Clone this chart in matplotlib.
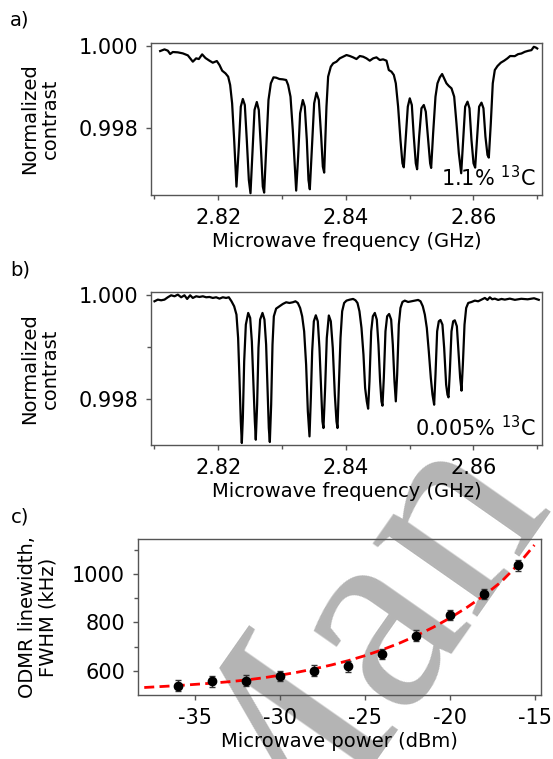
import numpy as np
import matplotlib
matplotlib.use("Agg")
import matplotlib.pyplot as plt
from matplotlib.ticker import FixedLocator, FormatStrFormatter

plt.rcParams['font.family'] = ['DejaVu Sans']
plt.rcParams['mathtext.fontset'] = 'dejavusans'
plt.rcParams['axes.unicode_minus'] = False

# ---- panel a: 1.1% 13C spectrum (traced)
freq_a = [2.81089, 2.81157, 2.81209, 2.81246, 2.81287, 2.81366, 2.81444, 2.81523, 2.81601, 2.81653,
          2.81695, 2.81747, 2.81799, 2.81862, 2.81914, 2.81977, 2.82019, 2.82061, 2.82113, 2.82155,
          2.82186, 2.82217, 2.82249, 2.82285, 2.82322, 2.82353, 2.82385, 2.82416, 2.82447, 2.82479,
          2.82505, 2.82536, 2.82568, 2.82604, 2.82635, 2.82667, 2.82698, 2.82719, 2.82750, 2.82787,
          2.82824, 2.82865, 2.82907, 2.82959, 2.83012, 2.83064, 2.83095, 2.83132, 2.83168, 2.83200,
          2.83221, 2.83252, 2.83283, 2.83325, 2.83356, 2.83388, 2.83414, 2.83435, 2.83466, 2.83503,
          2.83539, 2.83576, 2.83613, 2.83639, 2.83660, 2.83696, 2.83722, 2.83764, 2.83801, 2.83853,
          2.83905, 2.83957, 2.84010, 2.84062, 2.84114, 2.84166, 2.84219, 2.84271, 2.84323, 2.84375,
          2.84428, 2.84480, 2.84532, 2.84584, 2.84637, 2.84673, 2.84715, 2.84752, 2.84783, 2.84819,
          2.84856, 2.84887, 2.84908, 2.84940, 2.84971, 2.85002, 2.85034, 2.85065, 2.85096, 2.85117,
          2.85149, 2.85185, 2.85222, 2.85253, 2.85290, 2.85321, 2.85337, 2.85368, 2.85405, 2.85436,
          2.85473, 2.85509, 2.85541, 2.85577, 2.85614, 2.85656, 2.85698, 2.85734, 2.85771, 2.85808,
          2.85839, 2.85870, 2.85907, 2.85938, 2.85969, 2.86001, 2.86027, 2.86058, 2.86089, 2.86126,
          2.86157, 2.86188, 2.86220, 2.86241, 2.86272, 2.86303, 2.86335, 2.86377, 2.86429, 2.86481,
          2.86533, 2.86575, 2.86648, 2.86700, 2.86752, 2.86805, 2.86857, 2.86909, 2.86946, 2.86977,
          2.87000]
contrast_a = [0.999885, 0.999926, 0.999894, 0.999812, 0.999861, 0.999853, 0.999828, 0.999779, 0.999624, 0.999706,
              0.999689, 0.999804, 0.999714, 0.999648, 0.999599, 0.999640, 0.999542, 0.999403, 0.999337, 0.999256,
              0.999051, 0.998601, 0.997701, 0.996556, 0.997538, 0.998519, 0.998708, 0.998560, 0.997701, 0.996720,
              0.996393, 0.997374, 0.998438, 0.998634, 0.998438, 0.997538, 0.996556, 0.996409, 0.997456, 0.998683,
              0.999092, 0.999239, 0.999231, 0.999198, 0.999190, 0.999174, 0.999051, 0.998765, 0.997947, 0.997047,
              0.996458, 0.997292, 0.998356, 0.998683, 0.998519, 0.997701, 0.996720, 0.996491, 0.997456, 0.998601,
              0.998863, 0.998683, 0.997783, 0.997047, 0.996900, 0.998519, 0.999256, 0.999501, 0.999583, 0.999624,
              0.999706, 0.999746, 0.999787, 0.999763, 0.999730, 0.999689, 0.999763, 0.999746, 0.999706, 0.999648,
              0.999706, 0.999730, 0.999665, 0.999681, 0.999648, 0.999419, 0.999378, 0.999297, 0.999092, 0.998519,
              0.997701, 0.997129, 0.997030, 0.997783, 0.998519, 0.998724, 0.998560, 0.997783, 0.997129, 0.996982,
              0.997783, 0.998479, 0.998560, 0.998396, 0.997701, 0.997129, 0.997015, 0.997865, 0.998765, 0.999092,
              0.999239, 0.999321, 0.999215, 0.999092, 0.999027, 0.998969, 0.998765, 0.998110, 0.997374, 0.996884,
              0.997701, 0.998519, 0.998642, 0.998479, 0.997701, 0.997129, 0.997022, 0.997783, 0.998519, 0.998618,
              0.998479, 0.997783, 0.997333, 0.997268, 0.998110, 0.999092, 0.999419, 0.999517, 0.999599, 0.999648,
              0.999706, 0.999763, 0.999760, 0.999809, 0.999825, 0.999866, 0.999890, 0.999907, 0.999989, 0.999972,
              0.999948]

# ---- panel b: 0.005% 13C spectrum (traced)
freq_b = [2.81000, 2.81052, 2.81104, 2.81157, 2.81209, 2.81261, 2.81314, 2.81366, 2.81418, 2.81470,
          2.81512, 2.81559, 2.81601, 2.81653, 2.81705, 2.81758, 2.81810, 2.81862, 2.81914, 2.81967,
          2.82019, 2.82071, 2.82123, 2.82165, 2.82207, 2.82249, 2.82285, 2.82311, 2.82332, 2.82353,
          2.82369, 2.82385, 2.82406, 2.82432, 2.82469, 2.82500, 2.82526, 2.82552, 2.82573, 2.82588,
          2.82609, 2.82630, 2.82656, 2.82693, 2.82724, 2.82750, 2.82771, 2.82792, 2.82808, 2.82829,
          2.82850, 2.82871, 2.82907, 2.82959, 2.83012, 2.83064, 2.83116, 2.83168, 2.83210, 2.83247,
          2.83283, 2.83315, 2.83346, 2.83377, 2.83404, 2.83430, 2.83451, 2.83472, 2.83498, 2.83529,
          2.83560, 2.83586, 2.83613, 2.83633, 2.83649, 2.83675, 2.83701, 2.83733, 2.83764, 2.83795,
          2.83827, 2.83853, 2.83869, 2.83889, 2.83916, 2.83942, 2.83973, 2.84010, 2.84062, 2.84114,
          2.84151, 2.84182, 2.84213, 2.84245, 2.84276, 2.84302, 2.84328, 2.84349, 2.84370, 2.84397,
          2.84423, 2.84454, 2.84485, 2.84511, 2.84537, 2.84558, 2.84574, 2.84595, 2.84621, 2.84647,
          2.84678, 2.84710, 2.84736, 2.84762, 2.84783, 2.84804, 2.84830, 2.84856, 2.84887, 2.84924,
          2.84976, 2.85029, 2.85081, 2.85133, 2.85170, 2.85206, 2.85238, 2.85269, 2.85300, 2.85332,
          2.85358, 2.85384, 2.85405, 2.85431, 2.85457, 2.85483, 2.85514, 2.85541, 2.85572, 2.85593,
          2.85609, 2.85630, 2.85656, 2.85682, 2.85708, 2.85740, 2.85766, 2.85792, 2.85813, 2.85834,
          2.85860, 2.85886, 2.85918, 2.85970, 2.86022, 2.86074, 2.86127, 2.86179, 2.86220, 2.86257,
          2.86294, 2.86335, 2.86388, 2.86440, 2.86492, 2.86570, 2.86650, 2.86750, 2.86850, 2.86950,
          2.87024]
contrast_b = [0.999872, 0.999904, 0.999891, 0.999904, 0.999949, 0.999987, 0.999968, 1.000000, 0.999949, 0.999987,
              0.999917, 0.999987, 0.999936, 0.999968, 0.999955, 0.999968, 0.999949, 0.999955, 0.999936, 0.999949,
              0.999923, 0.999949, 0.999936, 0.999949, 0.999872, 0.999776, 0.999617, 0.999169, 0.998403, 0.997572,
              0.997157, 0.997636, 0.998722, 0.999425, 0.999649, 0.999553, 0.999105, 0.998275, 0.997572, 0.997220,
              0.997891, 0.998978, 0.999521, 0.999649, 0.999521, 0.999042, 0.998211, 0.997444, 0.997176, 0.997891,
              0.999042, 0.999585, 0.999732, 0.999776, 0.999821, 0.999853, 0.999840, 0.999853, 0.999872, 0.999840,
              0.999744, 0.999585, 0.999297, 0.998658, 0.997763, 0.997284, 0.998019, 0.998914, 0.999489, 0.999604,
              0.999489, 0.998978, 0.998147, 0.997572, 0.997444, 0.998211, 0.999169, 0.999600, 0.999489, 0.998978,
              0.998083, 0.997572, 0.997444, 0.998211, 0.999169, 0.999681, 0.999840, 0.999885, 0.999904, 0.999917,
              0.999891, 0.999840, 0.999681, 0.999361, 0.998850, 0.998211, 0.997955, 0.997815, 0.998339, 0.999297,
              0.999585, 0.999649, 0.999521, 0.999042, 0.998339, 0.997955, 0.997872, 0.998403, 0.999297, 0.999585,
              0.999629, 0.999521, 0.999042, 0.998339, 0.997955, 0.998466, 0.999425, 0.999744, 0.999859, 0.999885,
              0.999859, 0.999872, 0.999885, 0.999898, 0.999872, 0.999776, 0.999617, 0.999361, 0.998914, 0.998403,
              0.998083, 0.997891, 0.998466, 0.999297, 0.999489, 0.999514, 0.999425, 0.998978, 0.998275, 0.998083,
              0.998032, 0.998530, 0.999297, 0.999489, 0.999508, 0.999393, 0.998914, 0.998403, 0.998160, 0.998658,
              0.999425, 0.999744, 0.999840, 0.999859, 0.999885, 0.999872, 0.999904, 0.999936, 0.999898, 0.999949,
              0.999911, 0.999923, 0.999898, 0.999917, 0.999904, 0.999923, 0.999900, 0.999920, 0.999910, 0.999930,
              0.999900]

# ---- panel c: linewidth vs microwave power
power_dbm = [-36, -34, -32, -30, -28, -26, -24, -22, -20, -18, -16]
fwhm_khz = [539, 556, 559, 578, 601, 618, 670, 745, 831, 918, 1036]
fwhm_err = [22, 22, 22, 22, 22, 22, 22, 22, 22, 22, 22]
fit_dbm = [-38, -37, -36, -35, -34, -33, -32, -31, -30, -29, -28, -27,
           -26, -25, -24, -23, -22, -21, -20, -19, -18, -17, -16, -15.05]
fit_khz = [531, 535, 539, 544, 549, 555, 562, 571, 582, 594, 608, 624,
           642, 663, 687, 714, 745, 780, 819, 863, 912, 968, 1040, 1120]

W, H = 553, 759
fig = plt.figure(figsize=(W / 100, H / 100), dpi=100)

# faint watermark behind everything
fig.text(0.632, 0.115, "Man", fontsize=200, family="Liberation Serif",
         color="#b4b4b4", rotation=55, ha="center", va="center", zorder=-5)

def frame(ax):
    ax.patch.set_alpha(0)
    for s in ax.spines.values():
        s.set_color("#555555"); s.set_linewidth(1.0)
    ax.tick_params(which="both", direction="out", color="#555555", labelsize=15, pad=6)
    ax.tick_params(which="major", length=3.5, width=1)
    ax.tick_params(which="minor", length=3, width=1)

def spectrum_axes(ax, ylim):
    frame(ax)
    ax.set_xlim(2.8095, 2.8707); ax.set_ylim(*ylim)
    ax.xaxis.set_major_locator(FixedLocator([2.82, 2.84, 2.86]))
    ax.xaxis.set_minor_locator(FixedLocator([2.81, 2.83, 2.85, 2.87]))
    ax.xaxis.set_major_formatter(FormatStrFormatter("%.2f"))
    ax.yaxis.set_major_locator(FixedLocator([0.998, 1.000]))
    ax.yaxis.set_major_formatter(FormatStrFormatter("%.3f"))
    ax.set_xlabel("Microwave frequency (GHz)", fontsize=14, labelpad=3)
    ax.text(-0.285, 0.5, "Normalized\ncontrast", transform=ax.transAxes, rotation=90,
            ha="center", va="center", fontsize=14, linespacing=1.15)

ax_a = fig.add_axes([151.3 / W, 1 - 195 / H, 390.4 / W, 152.3 / H])
spectrum_axes(ax_a, (0.99635, 1.00009))
ax_a.plot(freq_a, contrast_a, color="black", lw=1.6)
ax_a.text(0.985, 0.03, r"1.1% $^{13}$C", transform=ax_a.transAxes, ha="right", va="bottom", fontsize=15)

ax_b = fig.add_axes([151.3 / W, 1 - 444.7 / H, 390.4 / W, 152.7 / H])
spectrum_axes(ax_b, (0.997125, 1.00005))
ax_b.yaxis.set_minor_locator(FixedLocator([0.999]))
ax_b.plot(freq_b, contrast_b, color="black", lw=1.6)
ax_b.text(0.985, 0.03, r"0.005% $^{13}$C", transform=ax_b.transAxes, ha="right", va="bottom", fontsize=15)

ax_c = fig.add_axes([138.3 / W, 1 - 695 / H, 402.7 / W, 156 / H])
frame(ax_c)
ax_c.set_xlim(-38.35, -14.66); ax_c.set_ylim(500, 1145)
ax_c.xaxis.set_major_locator(FixedLocator([-35, -30, -25, -20, -15]))
ax_c.yaxis.set_major_locator(FixedLocator([600, 800, 1000]))
ax_c.yaxis.set_minor_locator(FixedLocator([700, 900, 1100]))
ax_c.plot(fit_dbm, fit_khz, color="#ff0000", lw=2, dashes=(3.6, 1.9))
ax_c.errorbar(power_dbm, fwhm_khz, yerr=fwhm_err, fmt="o", color="black", ms=6,
              ecolor="#333333", elinewidth=1, capsize=2.5, capthick=1, zorder=3)
ax_c.set_xlabel("Microwave power (dBm)", fontsize=14, labelpad=3)
ax_c.text(-0.25, 0.5, "ODMR linewidth,\nFWHM (kHz)", transform=ax_c.transAxes, rotation=90,
          ha="center", va="center", fontsize=14, linespacing=1.15)

for lab, y in (("a)", 20), ("b)", 270), ("c)", 517)):
    fig.text(20 / W, 1 - y / H, lab, fontsize=14, ha="center", va="center")

fig.savefig("out.png", dpi=100)
